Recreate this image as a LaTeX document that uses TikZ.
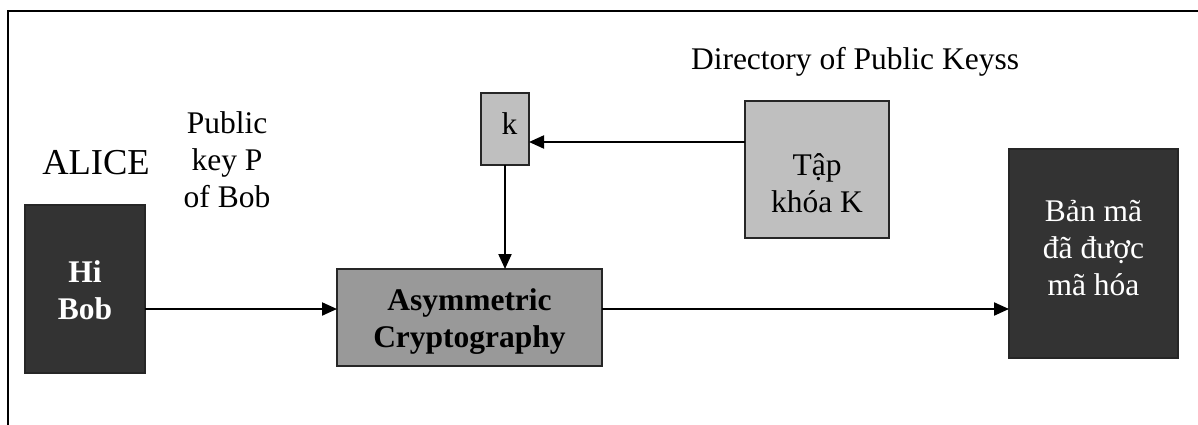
\documentclass[tikz,border=0pt]{standalone}
\usepackage{fontspec}
\setmainfont{Liberation Serif}
\usetikzlibrary{arrows.meta}
\begin{document}
\begin{tikzpicture}[x=1pt,y=-1pt,
  every node/.style={inner sep=0pt, outer sep=0pt},
  txt/.style={font=\fontsize{31.5}{37}\selectfont, align=center},
  boldtxt/.style={txt, font=\fontsize{31.5}{37}\selectfont\bfseries},
  boxbase/.style={draw=black!85, line width=1.6pt, inner sep=0pt},
  darkbox/.style={boxbase, fill=black!80},
  midbox/.style={boxbase, fill=black!40},
  lightbox/.style={boxbase, fill=black!25},
  flow/.style={line width=2.1pt, -{Triangle[length=15pt,width=13pt]}},
  frameline/.style={line width=2.6pt}]
\useasboundingbox (0,0) rectangle (1198,425);

% open frame: top and left edges only
\coordinate (fa) at (8,425);
\coordinate (fb) at (8,11);
\coordinate (fc) at (1198,11);
\draw[frameline] (fa) -- (fb) -- (fc);

% boxes
\node[darkbox, minimum width=120pt, minimum height=168pt] (hibob) at (85,289) {};
\node[midbox, minimum width=265pt, minimum height=97pt] (asym) at (469.5,317.5) {};
\node[lightbox, minimum width=48pt, minimum height=72pt] (kbox) at (505,129) {};
\node[lightbox, minimum width=144pt, minimum height=137pt] (tap) at (817,169.5) {};
\node[darkbox, minimum width=169pt, minimum height=209pt] (ban) at (1093.5,253.5) {};

% box texts
\node[boldtxt, text=white] (hibobtxt) at (85,290.5) {Hi\\Bob};
\node[boldtxt] (asymtxt) at (469.5,321.5) {Asymmetric\\Cryptography};
\node[txt, anchor=base] (ktxt) at (509.5,134) {k};
\node[txt] (taptxt) at (817,183) {Tập\\khóa K};
\node[txt, text=white] (bantxt) at (1093.5,248) {Bản mã\\đã được\\mã hóa};

% free labels
\node[font=\fontsize{36.5}{42}\selectfont, anchor=base] (alice) at (96,174) {ALICE};
\node[txt] (pubkey) at (227,160) {Public\\key P\\of Bob};
\node[txt, anchor=base west] (directory) at (691,70) {Directory of Public Keyss};

% connectors
\coordinate (a1) at ([yshift=-20pt]hibob.east);
\draw[flow] (a1) -- (a1 -| asym.west);
\coordinate (a2) at (asym.east |- a1);
\draw[flow] (a2) -- (a2 -| ban.west);
\coordinate (a3) at ([yshift=27.5pt]tap.west);
\draw[flow] (a3) -- (a3 -| kbox.east);
\draw[flow] (kbox.south) -- (kbox.south |- asym.north);
\end{tikzpicture}
\end{document}
